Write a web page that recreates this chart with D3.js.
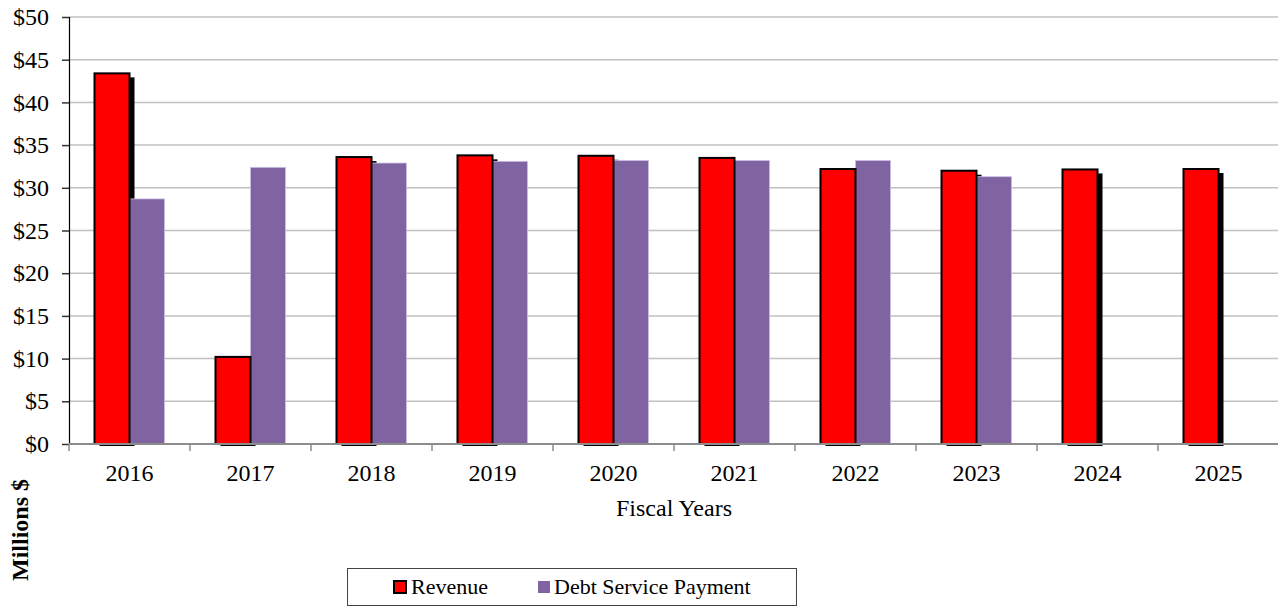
<!DOCTYPE html>
<html>
<head>
<meta charset="utf-8">
<script src="https://cdn.jsdelivr.net/npm/d3@7"></script>
<style>
  html, body { margin: 0; padding: 0; background: #fff; }
  svg { display: block; }
  svg text { font-family: "Liberation Serif", Tinos, "Times New Roman", Times, "DejaVu Serif", serif !important; fill: #000; }
</style>
</head>
<body>
<svg id="chart" width="1278" height="606"></svg>
<script>
// Fiscal years and the two series, in millions of dollars
const years = ["2016", "2017", "2018", "2019", "2020", "2021", "2022", "2023", "2024", "2025"];
const revenue = [43.4, 10.2, 33.6, 33.8, 33.75, 33.5, 32.2, 32.0, 32.15, 32.2];
const debtService = [28.7, 32.4, 32.9, 33.1, 33.2, 33.2, 33.2, 31.3, null, null];
const yTicks = [0, 5, 10, 15, 20, 25, 30, 35, 40, 45, 50];
const seriesNames = ["Revenue", "Debt Service Payment"];

const FONT = '"Liberation Serif", Tinos, "Times New Roman", Times, "DejaVu Serif", serif';

const svg = d3.select("#chart");
const plot = { left: 69, right: 1279, top: 17, bottom: 444 };

const y = d3.scaleLinear().domain([0, 50]).range([plot.bottom, plot.top]);
const x0 = d3.scaleBand().domain(years).range([plot.left, plot.right])
  .paddingInner(0.4215).paddingOuter(0.21075);
const x1 = d3.scaleBand().domain(seriesNames).range([0, x0.bandwidth()]);

// Horizontal gridlines
svg.append("g").selectAll("line").data(yTicks.filter(d => d > 0)).join("line")
  .attr("x1", plot.left).attr("x2", 1278)
  .attr("y1", d => y(d)).attr("y2", d => y(d))
  .attr("stroke", "#c0c0c0").attr("stroke-width", 1.5);

// Y axis
const yAxis = svg.append("g").attr("transform", `translate(${plot.left},0)`)
  .call(d3.axisLeft(y).tickValues(yTicks).tickSize(7).tickPadding(13).tickFormat(d => "$" + d))
  .attr("font-family", FONT);
yAxis.select(".domain").attr("stroke", "#000").attr("stroke-width", 1.2);
yAxis.selectAll(".tick line").attr("stroke", "#333").attr("stroke-width", 1.5);
yAxis.selectAll(".tick text").attr("font-size", 24).attr("fill", "#000");

const groups = svg.append("g").selectAll("g").data(years).join("g")
  .attr("transform", d => `translate(${x0(d)},0)`);

// Revenue drop shadow
groups.filter((d, i) => revenue[i] != null).append("rect")
  .attr("x", x1("Revenue") + 5)
  .attr("y", d => y(revenue[years.indexOf(d)]) + 4)
  .attr("width", x1.bandwidth())
  .attr("height", d => y(0) + 2 - (y(revenue[years.indexOf(d)]) + 4))
  .attr("fill", "#000");

// Debt service bars
groups.filter(d => debtService[years.indexOf(d)] != null).append("rect")
  .attr("x", x1("Debt Service Payment"))
  .attr("y", d => y(debtService[years.indexOf(d)]))
  .attr("width", x1.bandwidth())
  .attr("height", d => y(0) - y(debtService[years.indexOf(d)]))
  .attr("fill", "#8064a2").attr("stroke", "#cdbfe3").attr("stroke-width", 0.8);

// Revenue bars
groups.append("rect")
  .attr("x", x1("Revenue"))
  .attr("y", d => y(revenue[years.indexOf(d)]))
  .attr("width", x1.bandwidth())
  .attr("height", d => y(0) - y(revenue[years.indexOf(d)]))
  .attr("fill", "#ff0000").attr("stroke", "#000").attr("stroke-width", 2);

// X axis
const xAxis = svg.append("g").attr("transform", `translate(0,${plot.bottom})`)
  .call(d3.axisBottom(x0).tickSize(0).tickPadding(20))
  .attr("font-family", FONT);
xAxis.select(".domain").remove();
xAxis.selectAll(".tick text").attr("font-size", 24).attr("fill", "#000");
svg.append("line").attr("x1", plot.left).attr("x2", 1278)
  .attr("y1", plot.bottom).attr("y2", plot.bottom)
  .attr("stroke", "#8c8c8c").attr("stroke-width", 2);
// Category separator ticks
svg.append("g").selectAll("line").data(d3.range(years.length + 1)).join("line")
  .attr("x1", i => plot.left + i * x0.step()).attr("x2", i => plot.left + i * x0.step())
  .attr("y1", plot.bottom).attr("y2", plot.bottom + 7)
  .attr("stroke", "#8c8c8c").attr("stroke-width", 1.5);

// Axis titles
svg.append("text").attr("x", 674).attr("y", 516).attr("text-anchor", "middle")
  .attr("font-family", FONT).attr("font-size", 24).text("Fiscal Years");
svg.append("text").attr("transform", "translate(28,530) rotate(-90)")
  .attr("text-anchor", "middle").attr("font-family", FONT)
  .attr("font-size", 24).attr("font-weight", "bold")
  .text("Millions $");

// Legend
const legend = svg.append("g").attr("font-family", FONT);
legend.append("rect").attr("x", 347.5).attr("y", 568.5).attr("width", 449).attr("height", 37)
  .attr("fill", "#fff").attr("stroke", "#444").attr("stroke-width", 1);
legend.append("rect").attr("x", 394).attr("y", 581).attr("width", 12).attr("height", 12)
  .attr("fill", "#ff0000").attr("stroke", "#000").attr("stroke-width", 2);
legend.append("text").attr("x", 411).attr("y", 594).attr("font-size", 22).text(seriesNames[0]);
legend.append("rect").attr("x", 538).attr("y", 581).attr("width", 12).attr("height", 12)
  .attr("fill", "#8064a2");
legend.append("text").attr("x", 554).attr("y", 594).attr("font-size", 22).text(seriesNames[1]);
</script>
</body>
</html>
